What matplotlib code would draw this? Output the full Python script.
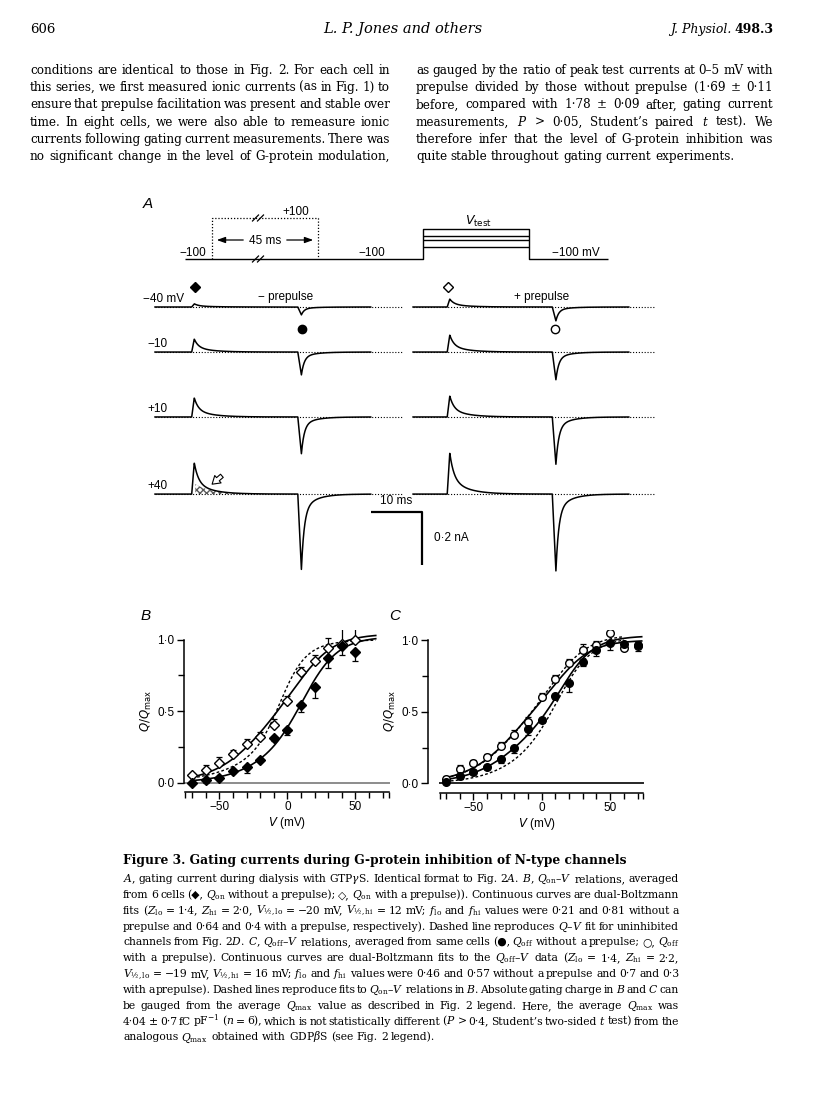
import numpy as np
import matplotlib
matplotlib.use("Agg")
import matplotlib.pyplot as plt

W, H = 816, 1110

# ---------------- data ----------------
# panel B: Q_on-V relations (normalised charge, mean and SEM)
V_B = [-70, -60, -50, -40, -30, -20, -10, 0, 10, 20, 30, 40, 50]
QON_NOPREP = [0.00, 0.015, 0.03, 0.08, 0.11, 0.16, 0.31, 0.37, 0.54, 0.67, 0.87, 0.955, 0.91]
QON_NOPREP_ERR = [0.01, 0.02, 0.01, 0.01, 0.04, 0.01, 0.02, 0.04, 0.05, 0.08, 0.07, 0.06, 0.06]
QON_PREP = [0.05, 0.086, 0.14, 0.20, 0.27, 0.32, 0.405, 0.57, 0.77, 0.85, 0.94, 0.97, 1.00]
QON_PREP_ERR = [0.02, 0.035, 0.04, 0.03, 0.035, 0.035, 0.04, 0.035, 0.04, 0.04, 0.07, 0.12, 0.12]

# panel C: Q_off-V relations
V_C = [-70, -60, -50, -40, -30, -20, -10, 0, 10, 20, 30, 40, 50, 60, 70]
QOFF_NOPREP = [0.01, 0.05, 0.08, 0.115, 0.17, 0.25, 0.38, 0.445, 0.61, 0.70, 0.85, 0.93, 0.98, 0.97, 0.965]
QOFF_NOPREP_ERR = [0.01, 0.02, 0.015, 0.015, 0.03, 0.04, 0.04, 0.02, 0.02, 0.06, 0.03, 0.04, 0.05, 0.03, 0.04]
QOFF_PREP = [0.03, 0.10, 0.145, 0.185, 0.26, 0.34, 0.43, 0.60, 0.725, 0.84, 0.93, 0.965, 1.05, 0.945, 0.955]
QOFF_PREP_ERR = [0.02, 0.03, 0.02, 0.02, 0.03, 0.03, 0.03, 0.03, 0.03, 0.03, 0.04, 0.03, 0.04, 0.03, 0.03]

# dual-Boltzmann fit parameters from the legend: (lo, hi)
B_Z = [1.4, 2.0]
B_VHALF = [-20, 12]
B_F_NOPREP = [0.21, 0.81]
B_F_PREP = [0.64, 0.40]
C_Z = [1.4, 2.2]
C_VHALF = [-19, 16]
C_F_NOPREP = [0.46, 0.57]
C_F_PREP = [0.70, 0.30]
# uninhibited Q-V fit (Fig. 2D), estimated from the dashed curve
U_Z = [1.2, 2.8]
U_VHALF = [-25, -5]
U_F = [0.30, 0.70]
RT_F = 25.4  # mV

# panel A: gating current traces (nA)
TRACE_LABELS = ["\u221240 mV", "\u221210", "+10", "+40"]
ON_NOPREP = [0.012, 0.049, 0.072, 0.118]
ON_PREP = [0.030, 0.064, 0.079, 0.155]
OFF_NOPREP = [0.030, 0.087, 0.140, 0.287]
OFF_PREP = [0.053, 0.106, 0.181, 0.294]

# ---------------- text ----------------
BODY_LEFT = [
    "conditions are identical to those in Fig. 2. For each cell in",
    "this series, we first measured ionic currents (as in Fig. 1) to",
    "ensure that prepulse facilitation was present and stable over",
    "time. In eight cells, we were also able to remeasure ionic",
    "currents following gating current measurements. There was",
    "no significant change in the level of G-protein modulation,",
]
BODY_RIGHT = [
    "as gauged by the ratio of peak test currents at 0\u20135 mV with",
    "prepulse divided by those without prepulse (1\u00b769 \u00b1 0\u00b711",
    "before, compared with 1\u00b778 \u00b1 0\u00b709 after, gating current",
    "measurements, $P$ > 0\u00b705, Student\u2019s paired $t$ test). We",
    "therefore infer that the level of G-protein inhibition was",
    "quite stable throughout gating current experiments.",
]
CAPTION = [
    r"$A$, gating current during dialysis with GTP$\gamma$S. Identical format to Fig. 2$A$. $B$, $Q_\mathrm{on}$–$V$ relations, averaged",
    r"from 6 cells (◆, $Q_\mathrm{on}$ without a prepulse); ◇, $Q_\mathrm{on}$ with a prepulse)). Continuous curves are dual-Boltzmann",
    r"fits ($Z_\mathrm{lo}$ = 1·4, $Z_\mathrm{hi}$ = 2·0, $V_{½,\mathrm{lo}}$ = −20 mV, $V_{½,\mathrm{hi}}$ = 12 mV; $f_\mathrm{lo}$ and $f_\mathrm{hi}$ values were 0·21 and 0·81 without a",
    r"prepulse and 0·64 and 0·4 with a prepulse, respectively). Dashed line reproduces $Q$–$V$ fit for uninhibited",
    r"channels from Fig. 2$D$. $C$, $Q_\mathrm{off}$–$V$ relations, averaged from same cells (●, $Q_\mathrm{off}$ without a prepulse; ○, $Q_\mathrm{off}$",
    r"with a prepulse). Continuous curves are dual-Boltzmann fits to the $Q_\mathrm{off}$–$V$ data ($Z_\mathrm{lo}$ = 1·4, $Z_\mathrm{hi}$ = 2·2,",
    r"$V_{½,\mathrm{lo}}$ = −19 mV, $V_{½,\mathrm{hi}}$ = 16 mV; $f_\mathrm{lo}$ and $f_\mathrm{hi}$ values were 0·46 and 0·57 without a prepulse and 0·7 and 0·3",
    r"with a prepulse). Dashed lines reproduce fits to $Q_\mathrm{on}$–$V$ relations in $B$. Absolute gating charge in $B$ and $C$ can",
    r"be gauged from the average $Q_\mathrm{max}$ value as described in Fig. 2 legend. Here, the average $Q_\mathrm{max}$ was",
    r"4·04 ± 0·7 fC pF$^{-1}$ ($n$ = 6), which is not statistically different ($P$ > 0·4, Student’s two-sided $t$ test) from the",
    r"analogous $Q_\mathrm{max}$ obtained with GDP$\beta$S (see Fig. 2 legend).",
]

plt.rcParams["font.family"] = ["DejaVu Serif", "DejaVu Sans"]
plt.rcParams["mathtext.fontset"] = "dejavuserif"
SANS = ["Liberation Sans", "DejaVu Sans"]

fig = plt.figure(figsize=(W / 100, H / 100), dpi=100)
page = fig.add_axes([0, 0, 1, 1])
page.set_xlim(0, W)
page.set_ylim(H, 0)
page.axis("off")
renderer = fig.canvas.get_renderer()


def px_axes(x0, y0, x1, y1):
    return fig.add_axes([x0 / W, 1 - y1 / H, (x1 - x0) / W, (y1 - y0) / H])


def word_widths(line, size, **kw):
    out = []
    for w in line.split(" "):
        a = page.text(0, 0, w, fontsize=size, **kw)
        out.append(a.get_window_extent(renderer).width)
        a.remove()
    return out


def fit_size(lines, width, size, min_gap=0.12, **kw):
    # largest size (<= size) at which every justified line keeps a minimum word gap
    while size > 5:
        worst = max(sum(ws) + (len(ws) - 1) * min_gap * size * 100 / 72
                    for ws in (word_widths(line, size, **kw) for line in lines))
        if worst <= width:
            return size
        size *= 0.985
    return size


def justify(line, x0, x1, y, size, last=False, **kw):
    words = line.split(" ")
    ws = word_widths(line, size, **kw)
    em = size * 100 / 72
    gap = 0.3 * em if (last or len(words) == 1) else (x1 - x0 - sum(ws)) / (len(words) - 1)
    x = x0
    for w, wd in zip(words, ws):
        page.text(x, y, w, fontsize=size, va="baseline", ha="left", **kw)
        x += wd + gap


def dual_boltz(v, f, z, vh):
    v = np.asarray(v, float)
    return (f[0] / (1 + np.exp(-z[0] * (v - vh[0]) / RT_F))
            + f[1] / (1 + np.exp(-z[1] * (v - vh[1]) / RT_F)))


# ---------------- header and body text ----------------
page.text(30, 33, "606", fontsize=9.5, va="baseline")
page.text(403, 33, "L. P. Jones and others", fontsize=10.5, style="italic", ha="center", va="baseline")
t_vol = page.text(773, 33, "498.3", fontsize=9, weight="bold", ha="right", va="baseline")
wv = t_vol.get_window_extent(renderer).width
page.text(773 - wv - 3, 33, "J. Physiol.", fontsize=9, style="italic", ha="right", va="baseline")

mf = dict(math_fontfamily="dejavuserif")
body_size = fit_size(BODY_LEFT + BODY_RIGHT[:-1], 358, 9.8, **mf)
for i, line in enumerate(BODY_LEFT):
    justify(line, 30, 390, 74 + 17.2 * i, body_size, **mf)
for i, line in enumerate(BODY_RIGHT):
    justify(line, 416, 773, 74 + 17.2 * i, body_size, last=(i == len(BODY_RIGHT) - 1), **mf)

# ---------------- panel A: protocol ----------------
page.text(143, 208, "A", fontsize=11, style="italic", family=SANS, va="baseline")
k = dict(color="k", lw=1.0, solid_capstyle="butt")
page.plot([185, 423, 423, 529, 529, 608], [259, 259, 229, 229, 259, 259], **k)
for yv in [236, 240, 247]:
    page.plot([423, 529], [yv, yv], **k)
page.plot([212, 212, 318, 318], [259, 218, 218, 259], color="k", lw=0.9, ls=(0, (1, 1.5)))
for xb, yb in [(258, 218), (258, 259)]:
    for dx in (-2.5, 2.5):
        page.plot([xb + dx - 3, xb + dx + 3], [yb + 3, yb - 3], color="k", lw=0.9)
page.annotate("", xy=(214, 240), xytext=(246, 240),
              arrowprops=dict(arrowstyle="-|>,head_width=0.18,head_length=0.5", color="k", lw=0.9))
page.annotate("", xy=(316, 240), xytext=(284, 240),
              arrowprops=dict(arrowstyle="-|>,head_width=0.18,head_length=0.5", color="k", lw=0.9))
sk = dict(fontsize=8.5, family=SANS, va="baseline")
page.text(265, 243.5, "45 ms", ha="center", **sk)
page.text(206, 256, "\u2212100", ha="right", **sk)
page.text(282, 215, "+100", ha="left", **sk)
page.text(358, 256, "\u2212100", ha="left", **sk)
page.text(552, 256, "\u2212100 mV", ha="left", **sk)
page.text(465, 225, r"$V_\mathrm{test}$", ha="left", fontsize=9, math_fontfamily="dejavusans", va="baseline")

# ---------------- panel A: traces ----------------
axA = px_axes(130, 270, 670, 600)
axA.set_xlim(-4.902, 100.98)
axA.set_ylim(-1.1057, 0.1396)
axA.axis("off")

ROW_BASE = [0.0, -0.17, -0.415, -0.706]
COLS = [  # (start time, on time, off time, end of dotted line)
    (0.0, 7.2, 28.0, 48.5, ON_NOPREP, OFF_NOPREP),
    (50.6, 6.7, 27.3, 98.0, ON_PREP, OFF_PREP),
]
t = np.linspace(0, 42.3, 1700)


def on_shape(dt):
    s = np.where(dt < 0, 0.0, np.where(dt < 0.5, dt / 0.5, 1.0))
    d = np.clip(dt - 0.5, 0, None)
    return s * (0.62 * np.exp(-d / 0.8) + 0.38 * np.exp(-d / 3.2))


def off_shape(dt):
    s = np.where(dt < 0, 0.0, np.where(dt < 0.7, dt / 0.7, 1.0))
    d = np.clip(dt - 0.7, 0, None)
    return s * (0.78 * np.exp(-d / 0.55) + 0.22 * np.exp(-d / 2.5))


for i, base in enumerate(ROW_BASE):
    for t0, ton, toff, tdot, on_amp, off_amp in COLS:
        axA.plot([t0, tdot], [base, base], color="k", lw=0.8, ls=(0, (1, 1.6)))
        y = base + on_amp[i] * on_shape(t - ton) - off_amp[i] * off_shape(t - toff)
        axA.plot(t0 + t, y, color="k", lw=1.1)

# shaded slow component of the +40 mV on-current (no prepulse)
ts = np.linspace(7.9, 17.0, 200)
axA.fill_between(ts, ROW_BASE[3], ROW_BASE[3] + ON_NOPREP[3] * 0.34 * np.exp(-(ts - 7.7) / 3.2),
                 facecolor="none", edgecolor="0.35", hatch="xxxxx", lw=0)

# scale bars
axA.plot([42.3, 52.3, 52.3], [-0.7736, -0.7736, -0.9736], color="k", lw=1.6, solid_capstyle="butt")
axA.text(47.3, -0.755, "10 ms", ha="center", va="bottom", fontsize=8.5, family=SANS)
axA.text(54.8, -0.8736, "0\u00b72 nA", ha="left", va="center", fontsize=8.5, family=SANS)

# trace labels and symbols
page.text(143, 302, TRACE_LABELS[0], **sk)
for lab, yy in zip(TRACE_LABELS[1:], [347, 412, 489]):
    page.text(147, yy, lab, **sk)
page.text(258, 300, "\u2212 prepulse", **sk)
page.text(514, 300, "+ prepulse", **sk)
page.plot([195], [287], marker="D", ms=5.5, color="k", ls="none")
page.plot([448], [287], marker="D", ms=5.5, mfc="white", mec="k", mew=1.0, ls="none")
page.plot([302], [329], marker="o", ms=6, color="k", ls="none")
page.plot([555], [329], marker="o", ms=6, mfc="white", mec="k", mew=1.0, ls="none")
page.annotate("", xy=(210, 486), xytext=(224, 474),
              arrowprops=dict(arrowstyle="simple,head_width=0.7,head_length=0.55,tail_width=0.3",
                              fc="white", ec="k", lw=0.8))


# ---------------- panels B and C ----------------
def style_qv(ax, xspan, zero_color):
    ax.set_ylim(-0.064, 1.07)
    for s in ["top", "right"]:
        ax.spines[s].set_visible(False)
    ax.spines["left"].set_bounds(0, 1)
    ax.spines["bottom"].set_bounds(*xspan)
    for s in ["left", "bottom"]:
        ax.spines[s].set_linewidth(1.1)
    ax.set_xticks([-50, 0, 50])
    ax.set_xticks([v for v in range(-70, 71, 10) if v % 50] + list(xspan), minor=True)
    ax.set_xticklabels(["\u221250", "0", "50"])
    ax.set_yticks([0, 0.5, 1.0])
    ax.set_yticks([0.25, 0.75], minor=True)
    ax.set_yticklabels(["0\u00b70", "0\u00b75", "1\u00b70"])
    ax.tick_params(which="both", direction="out", width=1.0, labelsize=8.5, pad=2)
    ax.tick_params(which="major", length=5)
    ax.tick_params(which="minor", length=4)
    for lab in ax.get_xticklabels() + ax.get_yticklabels():
        lab.set_fontfamily(SANS)
    ax.plot(list(xspan), [0, 0], color=zero_color, lw=1.4, zorder=1)
    ax.set_xlabel("$V$ (mV)", fontsize=8.5, family=SANS, math_fontfamily="dejavusans", labelpad=1)
    ax.set_ylabel(r"$Q/Q_\mathrm{max}$", fontsize=8.5, math_fontfamily="dejavusans", labelpad=2)
    ax.patch.set_alpha(0)


def qv_points(ax, v, y, err, marker, filled, up):
    e = np.array(err)
    z = np.zeros_like(e)
    yerr = [z, e] if up else [e, z]
    ax.errorbar(v, y, yerr=yerr, fmt="none", ecolor="k", elinewidth=0.9, capsize=2.5, capthick=0.9, zorder=3)
    ax.plot(v, y, ls="none", marker=marker, ms=5.5,
            mfc="k" if filled else "white", mec="k", mew=1.0, zorder=4)


axB = px_axes(184, 629.5, 390.7, 791.7)
axB.set_xlim(-76, 76)
style_qv(axB, (-75, 75), "0.55")
vv = np.linspace(-70, 65, 300)
axB.plot(vv, dual_boltz(vv, U_F, U_Z, U_VHALF), color="k", lw=1.0, ls=(0, (2, 1.6)), zorder=2)
axB.plot(vv, dual_boltz(vv, B_F_PREP, B_Z, B_VHALF), color="k", lw=1.2, zorder=2)
axB.plot(vv, dual_boltz(vv, B_F_NOPREP, B_Z, B_VHALF), color="k", lw=1.2, zorder=2)
qv_points(axB, V_B, QON_PREP, QON_PREP_ERR, "D", False, True)
qv_points(axB, V_B, QON_NOPREP, QON_NOPREP_ERR, "D", True, False)

axC = px_axes(428, 630, 645.8, 792.5)
axC.set_xlim(-83, 76)
style_qv(axC, (-74, 74), "0.15")
vv = np.linspace(-70, 60, 300)
axC.plot(vv, dual_boltz(vv, B_F_NOPREP, B_Z, B_VHALF), color="k", lw=1.0, ls=(0, (2, 1.6)), zorder=2)
axC.plot(vv, dual_boltz(vv, B_F_PREP, B_Z, B_VHALF), color="k", lw=1.0, ls=(0, (2, 1.6)), zorder=2)
vv = np.linspace(-70, 73, 300)
axC.plot(vv, dual_boltz(vv, C_F_PREP, C_Z, C_VHALF), color="k", lw=1.2, zorder=2)
axC.plot(vv, dual_boltz(vv, C_F_NOPREP, C_Z, C_VHALF), color="k", lw=1.2, zorder=2)
qv_points(axC, V_C, QOFF_PREP, QOFF_PREP_ERR, "o", False, True)
qv_points(axC, V_C, QOFF_NOPREP, QOFF_NOPREP_ERR, "o", True, False)

page.text(141, 620, "B", fontsize=11, style="italic", family=SANS, va="baseline")
page.text(389, 620, "C", fontsize=11, style="italic", family=SANS, va="baseline")

# ---------------- caption ----------------
page.text(123, 864, "Figure 3. Gating currents during G-protein inhibition of N-type channels",
          fontsize=8.8, weight="bold", va="baseline")
cap_size = fit_size(CAPTION[:-1], 556, 8.4, **mf)
for i, line in enumerate(CAPTION):
    justify(line, 123, 679, 882 + 15.85 * i, cap_size, last=(i == len(CAPTION) - 1), **mf)

fig.savefig("out.png", dpi=100)
